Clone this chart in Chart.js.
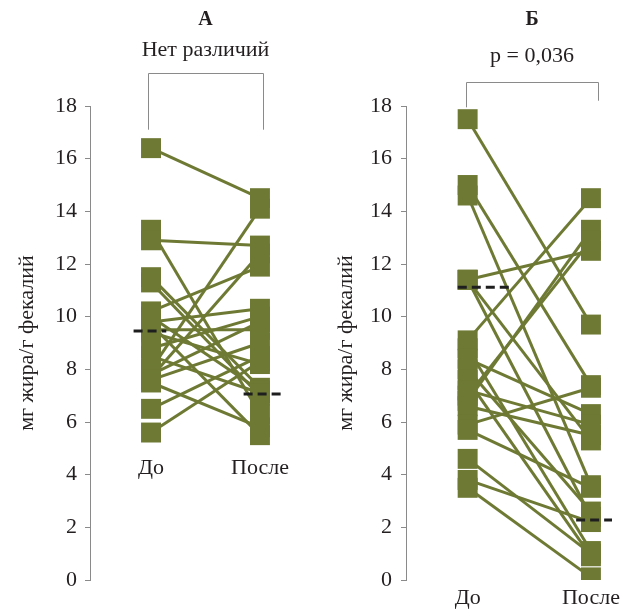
<!DOCTYPE html>
<html>
<head>
<meta charset="utf-8">
<script src="https://cdn.jsdelivr.net/npm/chart.js@4.4.1/dist/chart.umd.min.js"></script>
<style>
  body { margin: 0; background: #fff; }
  #wrap { position: relative; width: 626px; height: 613px; }
  canvas { position: absolute; top: 0; }
</style>
</head>
<body>
<div id="wrap">
  <canvas id="chartA" width="322" height="613" style="left:0"></canvas>
  <canvas id="chartB" width="306" height="613" style="left:320px"></canvas>
</div>
<script>
const catLabels = ['До', 'После'];

// panel A (no difference)
const beforeA = [16.4, 13.3, 12.9, 11.5, 11.3, 10.2, 10.0, 9.8, 9.7, 9.5, 9.4, 8.8, 8.5, 8.0, 7.8, 7.7, 7.6, 7.5, 6.5, 5.6];
const afterA  = [14.5, 6.3, 12.7, 7.3, 7.0, 11.9, 7.2, 10.3, 5.5, 9.5, 8.2, 10.0, 7.1, 14.1, 9.8, 12.4, 9.0, 5.8, 8.5, 8.3];
const medianA = [9.46, 7.06];

// panel Б (p = 0,036)
const beforeB = [17.5, 15.0, 14.6, 11.4, 11.4, 11.4, 9.1, 8.8, 8.4, 8.0, 7.6, 7.2, 6.8, 6.6, 7.0, 5.9, 5.7, 4.6, 3.8, 3.5];
const afterB  = [9.7, 7.4, 3.6, 12.5, 5.3, 2.4, 14.5, 1.1, 6.3, 2.6, 0.9, 5.9, 13.3, 5.5, 12.9, 7.3, 3.5, 1.0, 2.2, 0.1];
const medianB = [11.12, 2.28];

const olive = '#6e7a34';
const textColor = '#231f20';
const axisGray = '#8a8a8a';
const serif = '"Liberation Serif", "DejaVu Serif", serif';

const headerPlugin = {
    id: 'header',
    afterDraw(chart, args, o) {
        const ctx = chart.ctx;
        const x = chart.scales.x, y = chart.scales.y;
        const xl = Math.round(x.getPixelForValue(o.bracketX[0]));
        const xr = Math.round(x.getPixelForValue(o.bracketX[1]));
        const top = Math.round(y.getPixelForValue(o.bracketTop));
        ctx.save();
        ctx.strokeStyle = axisGray;
        ctx.lineWidth = 1;
        ctx.beginPath();
        ctx.moveTo(xl + 0.5, y.getPixelForValue(o.bracketEnds[0]));
        ctx.lineTo(xl + 0.5, top + 0.5);
        ctx.lineTo(xr + 0.5, top + 0.5);
        ctx.lineTo(xr + 0.5, y.getPixelForValue(o.bracketEnds[1]));
        ctx.stroke();
        const cx = (xl + xr) / 2;
        ctx.fillStyle = textColor;
        ctx.textAlign = 'center';
        ctx.textBaseline = 'middle';
        ctx.font = 'bold 20px ' + serif;
        ctx.fillText(o.letter, cx, o.letterY);
        ctx.font = '22px ' + serif;
        ctx.fillText(o.note, cx, o.noteY);
        ctx.restore();
    }
};

function makeChart(id, before, after, median, medSpan, cfg) {
    const datasets = [];
    median.forEach((m, i) => {
        datasets.push({
            data: [{x: medSpan[i][0], y: m}, {x: medSpan[i][1], y: m}],
            showLine: true,
            borderColor: '#1e1e1e',
            borderWidth: 3,
            borderDash: [9, 5],
            pointRadius: 0,
            order: 0
        });
    });
    const squares = [];
    before.forEach((b, i) => {
        squares.push({x: 0, y: b}, {x: 1, y: after[i]});
        datasets.push({
            data: [{x: 0, y: b}, {x: 1, y: after[i]}],
            showLine: true,
            borderColor: olive,
            borderWidth: 3,
            pointRadius: 0,
            order: 2
        });
    });
    datasets.push({
        data: squares,
        pointStyle: 'rect',
        pointRadius: 14.1,
        backgroundColor: olive,
        borderWidth: 0,
        order: 1
    });

    return new Chart(document.getElementById(id), {
        type: 'scatter',
        data: { datasets: datasets },
        plugins: [headerPlugin],
        options: {
            responsive: false,
            animation: false,
            layout: { padding: cfg.padding },
            plugins: {
                legend: { display: false },
                tooltip: { enabled: false },
                header: cfg.header
            },
            scales: {
                x: {
                    type: 'linear',
                    min: cfg.xRange[0],
                    max: cfg.xRange[1],
                    position: cfg.xPosition,
                    grid: { display: false, drawTicks: false },
                    border: { display: false },
                    afterBuildTicks: s => { s.ticks = [{value: 0}, {value: 1}]; },
                    afterFit: s => {
                        s.height = cfg.xHeight;
                        s.paddingLeft = 0;
                        s.paddingRight = 0;
                    },
                    ticks: {
                        padding: cfg.xPad,
                        maxRotation: 0,
                        autoSkip: false,
                        color: textColor,
                        font: { family: serif, size: 22 },
                        callback: v => catLabels[v] ?? ''
                    }
                },
                y: {
                    min: 0,
                    max: 18,
                    afterFit: s => { s.width = cfg.yWidth; },
                    border: { display: true, color: axisGray, width: 1 },
                    grid: { drawOnChartArea: false, drawTicks: true, tickLength: 5, color: axisGray },
                    title: {
                        display: true,
                        text: 'мг жира/г фекалий',
                        color: textColor,
                        font: { family: serif, size: 22 },
                        padding: { top: cfg.titlePad, bottom: 0 }
                    },
                    ticks: {
                        stepSize: 2,
                        padding: cfg.tickPad,
                        color: textColor,
                        font: { family: serif, size: 22 }
                    }
                }
            }
        }
    });
}

makeChart('chartA', beforeA, afterA, medianA, [[-0.16, 0.14], [0.85, 1.19]], {
    padding: { top: 106, bottom: 33, left: 0, right: 4 },
    xRange: [-0.56, 1.44],
    xPosition: { y: 4.87 },
    xHeight: 0,
    xPad: 3,
    yWidth: 90,
    titlePad: 14,
    tickPad: 8,
    header: { letter: 'А', note: 'Нет различий', letterY: 20, noteY: 50,
              bracketX: [-0.03, 1.03], bracketTop: 19.25, bracketEnds: [17.1, 17.1] }
});

makeChart('chartB', beforeB, afterB, medianB, [[-0.08, 0.34], [0.88, 1.19]], {
    padding: { top: 106, bottom: 0, left: 0, right: 9 },
    xRange: [-0.5, 1.17],
    xPosition: 'bottom',
    xHeight: 33,
    xPad: 5,
    yWidth: 86,
    titlePad: 13,
    tickPad: 9,
    header: { letter: 'Б', note: 'p = 0,036', letterY: 20, noteY: 56,
              bracketX: [-0.01, 1.06], bracketTop: 18.9, bracketEnds: [17.95, 18.2] }
});
</script>
</body>
</html>
